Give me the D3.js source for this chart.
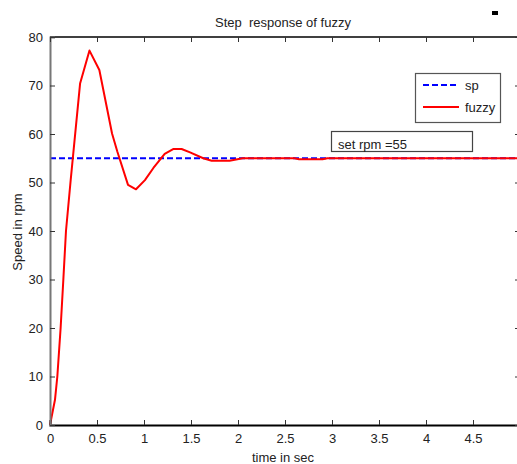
<!DOCTYPE html>
<html><head><meta charset="utf-8">
<script src="https://cdn.jsdelivr.net/npm/d3@7"></script>
<style>
body{margin:0;background:#fff;}
text{font-family:"Liberation Sans Narrow","Arial Narrow","Liberation Sans",Arial,sans-serif;}
</style></head>
<body><svg id="c" width="517" height="464"></svg>
<script>
const time = [0,0.053,0.078,0.113,0.142,0.17,0.22,0.32,0.42,0.525,0.66,0.716,0.83,0.915,1.01,1.1,1.22,1.31,1.4,1.49,1.63,1.72,1.91,2.05,2.2,2.6,2.65,2.9,2.95,5];
const fuzzy = [0,5.2,10,20,30,40,50.5,70.4,77.2,73.2,60.1,56.4,49.5,48.6,50.5,53,55.9,56.9,56.9,56.2,55,54.5,54.5,55,55,55,54.8,54.8,55,55];
const spTime = [0,5];
const sp = [55,55];
const xTicks = [0,0.5,1,1.5,2,2.5,3,3.5,4,4.5,5];
const yTicks = [0,10,20,30,40,50,60,70,80];
const legendLabels = ["sp","fuzzy"];
const title = "Step  response of fuzzy";
const xLabel = "time in sec";
const yLabel = "Speed in rpm";
const note = "set rpm =55";

const svg = d3.select("#c");
const L=50, R=520, T=37, B=425;
const x = d3.scaleLinear().domain([0,5]).range([L,R]);
const y = d3.scaleLinear().domain([0,80]).range([B,T]);

// frame
svg.append("line").attr("x1",L).attr("x2",R).attr("y1",T).attr("y2",T).attr("stroke","#000").attr("stroke-width",1.5);
svg.append("line").attr("x1",R).attr("x2",R).attr("y1",T).attr("y2",B).attr("stroke","#000");

// lines
const line = d3.line().x(d=>x(d[0])).y(d=>y(d[1]));
svg.append("path").datum(spTime.map((t,i)=>[t,sp[i]])).attr("d",line)
  .attr("fill","none").attr("stroke","#0000ff").attr("stroke-width",2).attr("stroke-dasharray","6,3");
svg.append("path").datum(time.map((t,i)=>[t,fuzzy[i]])).attr("d",line)
  .attr("fill","none").attr("stroke","#ff0000").attr("stroke-width",2).attr("stroke-linejoin","round");

// axes
const fmt = d=>String(d);
const gx = svg.append("g").attr("transform",`translate(0,${B})`)
  .call(d3.axisBottom(x).tickValues(xTicks).tickSize(-5).tickPadding(9).tickFormat(fmt));
gx.select(".domain").attr("stroke","#000").attr("stroke-width",2);
const gy = svg.append("g").attr("transform",`translate(${L},0)`)
  .call(d3.axisLeft(y).tickValues(yTicks).tickSize(-5).tickPadding(7).tickFormat(fmt));
gy.select(".domain").attr("stroke","#777").attr("stroke-width",2);
svg.append("g").attr("transform",`translate(0,${T})`)
  .call(d3.axisTop(x).tickValues(xTicks).tickSize(-5).tickFormat(""))
  .select(".domain").remove();
svg.append("g").attr("transform",`translate(${R},0)`)
  .call(d3.axisRight(y).tickValues(yTicks).tickSize(-5).tickFormat(""))
  .select(".domain").remove();
svg.selectAll(".tick text").attr("font-size",13).attr("fill","#222")
  .style("font-family",'"Liberation Sans Narrow","Arial Narrow","Liberation Sans",Arial,sans-serif');
svg.selectAll(".tick line").attr("stroke","#333");

// titles
svg.append("text").attr("x",283).attr("y",27).attr("text-anchor","middle").attr("font-size",13).attr("fill","#222").style("white-space","pre").text(title);
svg.append("text").attr("x",283).attr("y",462).attr("text-anchor","middle").attr("font-size",13).attr("fill","#222").text(xLabel);
svg.append("text").attr("transform","translate(22,232) rotate(-90)").attr("text-anchor","middle").attr("font-size",13).attr("fill","#222").text(yLabel);

// legend
svg.append("rect").attr("x",415.5).attr("y",73.5).attr("width",85).attr("height",49).attr("fill","#fff").attr("stroke","#555").attr("stroke-width",1.2);
const leg = [{c:"#0000ff",d:"6,3"},{c:"#ff0000",d:null}];
leg.forEach((l,i)=>{
  const yy = 85 + i*22;
  svg.append("line").attr("x1",423).attr("x2",459).attr("y1",yy).attr("y2",yy).attr("stroke",l.c).attr("stroke-width",2).attr("stroke-dasharray",l.d);
  svg.append("text").attr("x",465).attr("y",yy+5).attr("font-size",13).attr("fill","#222").text(legendLabels[i]);
});

// note box
svg.append("rect").attr("x",331.5).attr("y",131.5).attr("width",141).attr("height",20).attr("fill","#fff").attr("stroke","#444").attr("stroke-width",1.2);
svg.append("text").attr("x",338).attr("y",149).attr("font-size",13).attr("fill","#222").text(note);

// small mark
svg.append("rect").attr("x",492).attr("y",11).attr("width",6).attr("height",4).attr("fill","#000");
</script></body></html>
